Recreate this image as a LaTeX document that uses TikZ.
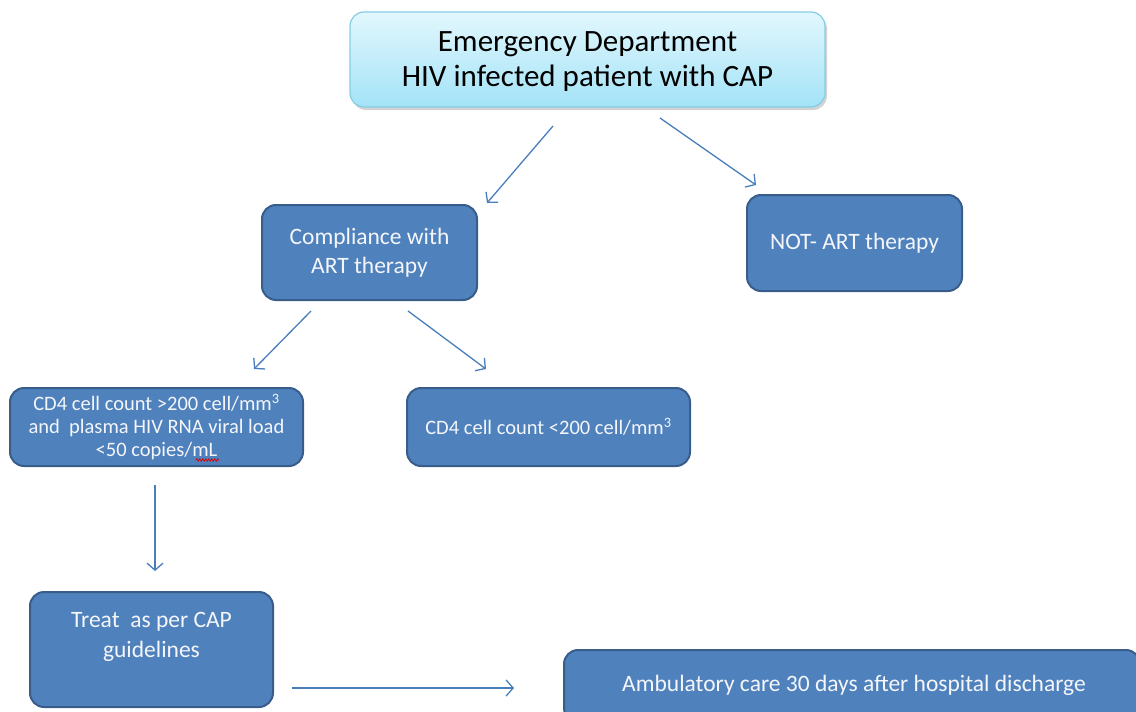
\documentclass[tikz,border=0pt]{standalone}
\usepackage{fontspec}
\setmainfont{Carlito}
\usetikzlibrary{arrows.meta,shadows,decorations.pathmorphing}
\definecolor{boxfill}{HTML}{4F81BD}
\definecolor{boxline}{HTML}{385D8A}
\definecolor{arrowc}{HTML}{4A7EBB}
\definecolor{toptop}{HTML}{E2F7FD}
\definecolor{topbot}{HTML}{A3E3F7}
\definecolor{topline}{HTML}{86CCE3}
\definecolor{txtc}{HTML}{F4F6FA}
\tikzset{
  bluebox/.style={draw=boxline, line width=2pt, fill=boxfill, rounded corners=14pt,
    text=txtc, align=center, inner sep=0pt},
  topbox/.style={draw=topline, line width=1.2pt, top color=toptop, bottom color=topbot,
    rounded corners=14pt, align=center, inner sep=0pt,
    drop shadow={opacity=0.35, shadow xshift=2pt, shadow yshift=-3pt}},
  link/.style={draw=arrowc, line width=1.3pt, -{Straight Barb[length=7pt,width=16pt,line width=1.3pt]}},
}
\begin{document}
\begin{tikzpicture}[x=1pt,y=-1pt]
\useasboundingbox (0,0) rectangle (1136,712);
\clip (0,0) rectangle (1136,712);
% boxes
\node[topbox, minimum width=475pt, minimum height=95pt] (ed) at (587.5,59.5) {};
\node[align=center, font=\fontsize{31}{35}\selectfont] (edtxt) at (587.5,61.5)
  {Emergency Department\\HIV infected patient with CAP};
\node[bluebox, minimum width=215pt, minimum height=95pt,
  font=\fontsize{23.5}{29}\selectfont] (comp) at (369.5,252.5)
  {Compliance with\\ART therapy};
\node[bluebox, minimum width=215pt, minimum height=96pt,
  font=\fontsize{23.5}{28}\selectfont] (notart) at (854.5,243)
  {NOT- ART therapy};
\node[bluebox, minimum width=293pt, minimum height=78pt,
  font=\fontsize{20.5}{23}\selectfont] (hi) at (156.5,427)
  {CD4 cell count >200 cell/mm\textsuperscript{3}\\and\ \ plasma HIV RNA viral load\\<50 copies/mL};
\node[bluebox, minimum width=283pt, minimum height=78pt,
  font=\fontsize{20.5}{23}\selectfont] (lo) at (548.5,427)
  {CD4 cell count <200 cell/mm\textsuperscript{3}};
\node[bluebox, minimum width=243pt, minimum height=115pt] (treat) at (151.5,649.5) {};
\node[text=txtc, align=center, font=\fontsize{23.5}{30}\selectfont] (treattxt) at (151.5,637)
  {Treat\ \ as per CAP\\guidelines};
\node[bluebox, minimum width=576pt, minimum height=72pt] (amb) at (852,686) {};
\node[text=txtc, font=\fontsize{23.5}{28}\selectfont] (ambtxt) at (854,685)
  {Ambulatory care 30 days after hospital discharge};
% spell-check squiggle
\coordinate (sq1) at (196,460);
\coordinate (sq2) at (219,460);
\draw[red!85!black, line width=0.8pt, decorate, decoration={zigzag, amplitude=1.1pt, segment length=3pt}] (sq1) -- (sq2);
% connector end points
\coordinate (a1s) at (553,126); \coordinate (a1e) at (487,203);
\coordinate (a2s) at (660,118); \coordinate (a2e) at (756,185);
\coordinate (a3s) at (311,311); \coordinate (a3e) at (254,369);
\coordinate (a4s) at (408,311); \coordinate (a4e) at (486,369);
\coordinate (a5s) at (155,485); \coordinate (a5e) at (155,571);
\coordinate (a6s) at (292,688); \coordinate (a6e) at (514,688);
\draw[link] (a1s) -- (a1e);
\draw[link] (a2s) -- (a2e);
\draw[link] (a3s) -- (a3e);
\draw[link] (a4s) -- (a4e);
\draw[link] (a5s) -- (a5e);
\draw[link] (a6s) -- (a6e);
\end{tikzpicture}
\end{document}
